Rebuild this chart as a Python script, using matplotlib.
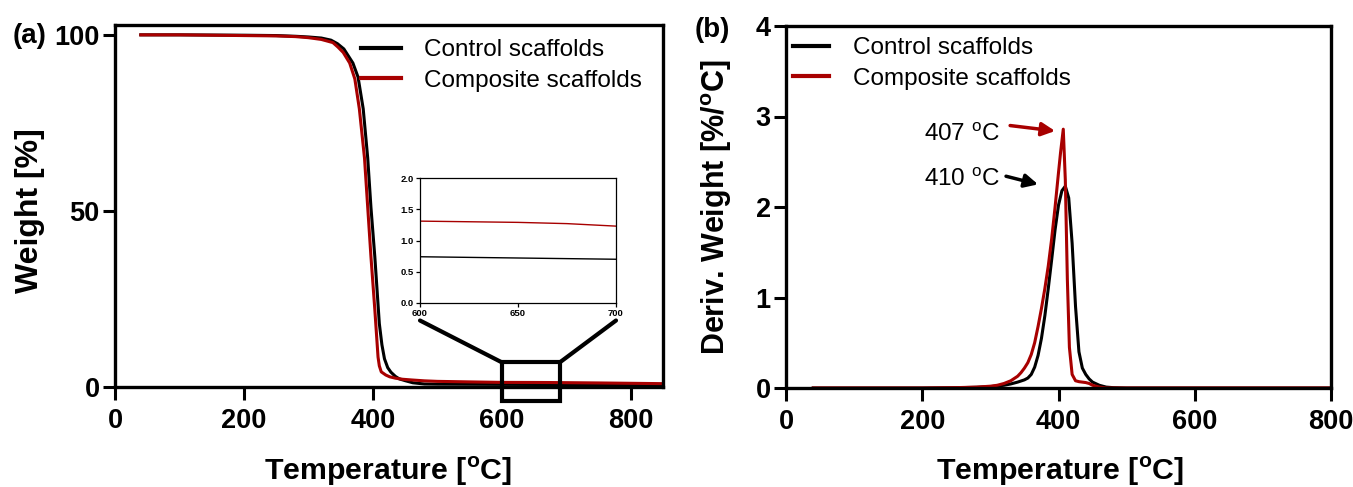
import matplotlib
matplotlib.use("Agg")
import matplotlib.pyplot as plt
from matplotlib.patches import Rectangle, ConnectionPatch

plt.rcParams['font.family'] = ['Liberation Sans', 'DejaVu Sans']
plt.rcParams['mathtext.fontset'] = 'custom'
plt.rcParams['mathtext.rm'] = 'Liberation Sans'
plt.rcParams['mathtext.bf'] = 'Liberation Sans:bold'

# ---------------- data ----------------
series_names = ["Control scaffolds", "Composite scaffolds"]
series_colors = ["#000000", "#A80000"]

tga_temp_control = [40, 100, 200, 250, 280, 300, 320, 335, 345, 355, 362, 369, 377,
                    385, 392, 397, 403, 410, 414, 418, 423, 428, 435, 441, 450, 462,
                    480, 500, 550, 600, 625, 650, 675, 700, 750, 800, 850]
tga_control = [100, 100, 99.9, 99.8, 99.6, 99.4, 99.1, 98.5, 97.5, 96.0, 94.0, 92.0,
               88.0, 79.0, 65.0, 51.0, 37.0, 18.0, 12.0, 8.0, 5.5, 4.2, 3.0, 2.3,
               1.8, 1.2, 0.85, 0.8, 0.77, 0.74, 0.73, 0.72, 0.71, 0.70, 0.66, 0.6,
               0.55]
tga_temp_composite = [40, 100, 200, 250, 280, 300, 320, 338, 346, 354, 364, 372, 379,
                      387, 392, 397, 403, 408, 410, 413, 420, 426, 435, 446, 460, 480,
                      500, 550, 600, 625, 650, 675, 700, 750, 800, 850]
tga_composite = [100, 100, 99.8, 99.7, 99.5, 99.2, 98.7, 97.8, 96.5, 95.0, 92.0, 87.5,
                 79.0, 65.0, 51.0, 37.0, 22.0, 8.5, 6.0, 4.3, 3.4, 2.9, 2.5, 2.2, 2.0,
                 1.75, 1.6, 1.45, 1.31, 1.30, 1.29, 1.27, 1.23, 1.15, 1.05, 0.95]

dtg_temp_control = [40, 100, 200, 250, 280, 300, 310, 320, 330, 340, 350, 355, 360,
                    365, 370, 375, 380, 385, 390, 395, 400, 405, 410, 415, 420, 425,
                    430, 435, 440, 445, 450, 460, 470, 480, 500, 600, 700, 800]
dtg_control = [0, 0, 0, 0.003, 0.008, 0.015, 0.022, 0.03, 0.045, 0.065, 0.09, 0.11,
               0.15, 0.23, 0.36, 0.55, 0.8, 1.1, 1.42, 1.75, 2.02, 2.18, 2.23, 2.1,
               1.6, 0.9, 0.4, 0.22, 0.15, 0.1, 0.065, 0.03, 0.01, 0.004, 0, 0, 0, 0]
dtg_temp_composite = [40, 100, 200, 250, 280, 300, 310, 320, 330, 340, 345, 350, 355,
                      360, 365, 370, 375, 380, 385, 390, 395, 400, 403, 407, 410, 413,
                      416, 420, 425, 430, 440, 445, 450, 460, 470, 500, 600, 700, 800]
dtg_composite = [0, 0, 0, 0.004, 0.01, 0.02, 0.03, 0.05, 0.08, 0.13, 0.17, 0.22,
                 0.28, 0.37, 0.5, 0.68, 0.88, 1.1, 1.35, 1.65, 2.0, 2.38, 2.6, 2.86,
                 2.3, 1.2, 0.45, 0.15, 0.08, 0.07, 0.06, 0.05, 0.03, 0.01, 0, 0, 0,
                 0, 0]

peak_temps = [410, 407]          # control, composite
peak_values = [2.23, 2.86]

x_ticks = [0, 200, 400, 600, 800]
a_yticks = [0, 50, 100]
b_yticks = [0, 1, 2, 3, 4]
inset_xticks = [600, 650, 700]
inset_yticks = [0.0, 0.5, 1.0, 1.5, 2.0]
zoom_x = (600, 690)
zoom_y = (-4, 7)

# ---------------- figure ----------------
W, H = 1353, 487
fig = plt.figure(figsize=(W / 100, H / 100), dpi=100)


def px_axes(l, t, r, b):
    return fig.add_axes([l / W, 1 - b / H, (r - l) / W, (b - t) / H])


SP = 2.4
TICKFS = 19.5
LABFS = 21.8
LEGFS = 17.5


def style(ax):
    for s in ax.spines.values():
        s.set_linewidth(SP)
    ax.tick_params(axis='both', which='major', direction='out', length=9,
                   width=2.2, labelsize=TICKFS)
    ax.tick_params(axis='y', pad=2)
    ax.tick_params(axis='x', pad=6)
    for lab in ax.get_xticklabels() + ax.get_yticklabels():
        lab.set_fontweight('bold')


# ---- panel (a) ----
axa = px_axes(115, 25, 663, 387)
axa.plot(tga_temp_control, tga_control, color=series_colors[0], lw=2.2, label=series_names[0])
axa.plot(tga_temp_composite, tga_composite, color=series_colors[1], lw=2.2, label=series_names[1])
axa.set_xlim(0, 850)
axa.set_ylim(0, 102.8)
axa.set_xticks(x_ticks)
axa.set_yticks(a_yticks)
style(axa)
axa.legend(loc='upper left', bbox_to_anchor=(361 / W, 1 - 39 / H),
           bbox_transform=fig.transFigure, frameon=False, fontsize=LEGFS,
           handlelength=1.65, handletextpad=0.95, labelspacing=0.36,
           borderpad=0, borderaxespad=0)
for line in axa.get_legend().get_lines():
    line.set_linewidth(3)

# zoom rectangle
rect = Rectangle((zoom_x[0], zoom_y[0]), zoom_x[1] - zoom_x[0], zoom_y[1] - zoom_y[0],
                 fill=False, lw=3, ec='black', clip_on=False, zorder=5)
axa.add_patch(rect)

# inset
axi = px_axes(420, 178, 616, 303)
axi.plot(tga_temp_control, tga_control, color=series_colors[0], lw=1.0)
axi.plot(tga_temp_composite, tga_composite, color=series_colors[1], lw=1.0)
axi.set_xlim(600, 700)
axi.set_ylim(0, 2.0)
axi.set_xticks(inset_xticks)
axi.set_yticks(inset_yticks)
axi.set_yticklabels([f"{v:.1f}" for v in inset_yticks])
for s in axi.spines.values():
    s.set_linewidth(0.9)
axi.tick_params(length=3, width=0.9, labelsize=6.8, pad=1.5)
for lab in axi.get_xticklabels() + axi.get_yticklabels():
    lab.set_fontweight('bold')

for xa, xb in [(0.0, zoom_x[0]), (1.0, zoom_x[1])]:
    con = ConnectionPatch(xyA=(xa, -0.14), coordsA=axi.transAxes,
                          xyB=(xb, zoom_y[1]), coordsB=axa.transData,
                          lw=3, color='black')
    fig.add_artist(con)

# ---- panel (b) ----
axb = px_axes(786, 26, 1331, 388)
axb.plot(dtg_temp_control, dtg_control, color=series_colors[0], lw=2.2, label=series_names[0])
axb.plot(dtg_temp_composite, dtg_composite, color=series_colors[1], lw=2.2, label=series_names[1])
axb.set_xlim(0, 800)
axb.set_ylim(0, 4)
axb.set_xticks(x_ticks)
axb.set_yticks(b_yticks)
style(axb)
axb.legend(loc='upper left', bbox_to_anchor=(793 / W, 1 - 37 / H),
           bbox_transform=fig.transFigure, frameon=False, fontsize=LEGFS,
           handlelength=1.5, handletextpad=0.95, labelspacing=0.36,
           borderpad=0, borderaxespad=0)
for line in axb.get_legend().get_lines():
    line.set_linewidth(3)

# peak annotations
ann_text_xy = [(314, 2.30), (314, 2.80)]
ann_tail = [(323, 2.34), (329, 2.90)]
ann_head_offset = [(-40, 0.02), (-12, -0.02)]
for i in [1, 0]:
    tx, ty = ann_text_xy[i]
    axb.text(tx, ty, f"{peak_temps[i]} $^{{\\mathrm{{o}}}}$C", fontsize=LEGFS,
             ha='right', va='center', color='black')
    hx = peak_temps[i] + ann_head_offset[i][0]
    hy = peak_values[i] + ann_head_offset[i][1]
    axb.annotate("", xy=(hx, hy), xytext=ann_tail[i],
                 arrowprops=dict(arrowstyle='-|>', color=series_colors[i], lw=2.5,
                                 mutation_scale=20, shrinkA=0, shrinkB=0))

# ---- labels ----
xlab = "Temperature [$^{\\mathbf{o}}$C]"
fig.text(388 / W, 1 - 471 / H, xlab, fontsize=LABFS, fontweight='bold', ha='center', va='center')
fig.text(1060 / W, 1 - 471 / H, xlab, fontsize=LABFS, fontweight='bold', ha='center', va='center')
fig.text(30 / W, 1 - 211 / H, "Weight [%]", fontsize=23, fontweight='bold',
         rotation=90, ha='center', va='center')
fig.text(717 / W, 1 - 207 / H, "Deriv. Weight [%/$^{\\mathbf{o}}$C]", fontsize=22,
         fontweight='bold', rotation=90, ha='center', va='center')
fig.text(13 / W, 1 - 36 / H, "(a)", fontsize=20, fontweight='bold', ha='left', va='center')
fig.text(695 / W, 1 - 30 / H, "(b)", fontsize=20, fontweight='bold', ha='left', va='center')

fig.savefig("out.png", dpi=100)
